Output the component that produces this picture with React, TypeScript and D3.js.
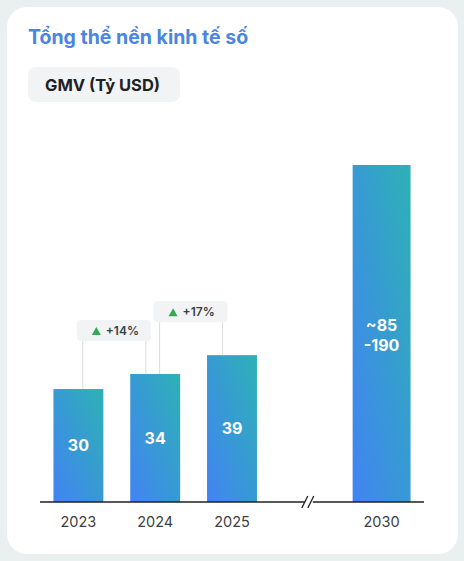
import React from "react";
import * as d3 from "d3";

// categories and values
const years = ["2023", "2024", "2025", "2030"];
const gmv = [30, 34, 39]; // 2023..2025
const gmv2030Low = 85;
const gmv2030High = 190;
const growth = [
  { from: "2023", to: "2024", label: "+14%" },
  { from: "2024", to: "2025", label: "+17%" },
];

const W = 464;
const H = 561;
const FONT = "Inter, Roboto, sans-serif";

const App: React.FC = () => {
  // band slots include an empty slot for the axis break
  const slots = ["2023", "2024", "2025", "break", "2030"];
  const x = d3
    .scaleBand<string>()
    .domain(slots)
    .range([40, 424])
    .paddingInner(0.35)
    .paddingOuter(0.175);

  // axis is broken, so tall values get clamped at the top
  const y = d3.scaleLinear().domain([0, 89.5]).range([502, 165]).clamp(true);

  const bw = x.bandwidth();
  const values: Record<string, number> = {};
  years.slice(0, 3).forEach((yr, i) => (values[yr] = gmv[i]));
  values["2030"] = gmv2030High;

  const cx = (k: string) => (x(k) as number) + bw / 2;
  const baseY = y(0);
  const breakX = cx("break");

  return (
    <svg
      width={W}
      height={H}
      style={{ position: "fixed", left: 0, top: 0 }}
      fontFamily={FONT}
    >
      <defs>
        <linearGradient id="barGrad" x1="1" y1="0" x2="0" y2="1">
          <stop offset="0%" stopColor="#2db1b5" />
          <stop offset="100%" stopColor="#4283f3" />
        </linearGradient>
      </defs>
      <rect width={W} height={H} fill="#eaf0f0" />
      <rect x={7} y={7} width={451} height={547} rx={20} fill="#ffffff" />

      <text x={28} y={44} fontSize={19.5} fontWeight={700} fill="#4a85df">
        Tổng thể nền kinh tế số
      </text>
      <rect x={28} y={67} width={152} height={35} rx={8} fill="#f1f3f4" />
      <text x={45} y={91} fontSize={16.5} fontWeight={700} fill="#202124">
        GMV (Tỷ USD)
      </text>

      {/* bars */}
      {years.map((yr) => {
        const widen = yr === "2030" ? 8 : 0;
        const top = y(values[yr]);
        return (
          <rect
            key={yr}
            x={(x(yr) as number) - widen}
            y={top}
            width={bw + widen}
            height={baseY - top}
            fill="url(#barGrad)"
          />
        );
      })}

      {/* value labels */}
      {years.slice(0, 3).map((yr) => (
        <text
          key={yr}
          x={cx(yr)}
          y={(y(values[yr]) + baseY) / 2}
          dy="0.35em"
          textAnchor="middle"
          fontSize={16}
          fontWeight={700}
          fill="#ffffff"
        >
          {values[yr]}
        </text>
      ))}
      <text
        x={cx("2030") - 4}
        y={(y(gmv2030High) + baseY) / 2}
        textAnchor="middle"
        fontSize={16}
        fontWeight={700}
        fill="#ffffff"
      >
        <tspan x={cx("2030") - 4} dy="-0.15em">
          ~{gmv2030Low}
        </tspan>
        <tspan x={cx("2030") - 4} dy="1.25em">
          -{gmv2030High}
        </tspan>
      </text>

      {/* growth callouts */}
      {growth.map((g) => {
        const x0 = cx(g.from);
        const x1 = cx(g.to);
        const mid = (x0 + x1) / 2;
        const bwid = 74;
        const bh = 21;
        const left = mid - bwid / 2 - 3;
        const bottom = y(values[g.to]) - 33;
        const top = bottom - bh;
        return (
          <g key={g.label}>
            <line
              x1={left + 6}
              x2={left + 6}
              y1={bottom}
              y2={y(values[g.from])}
              stroke="#dadce0"
              strokeWidth={1}
            />
            <line
              x1={left + bwid - 5}
              x2={left + bwid - 5}
              y1={bottom}
              y2={y(values[g.to])}
              stroke="#dadce0"
              strokeWidth={1}
            />
            <rect x={left} y={top} width={bwid} height={bh} rx={4} fill="#f1f3f4" />
            <path
              d={`M${left + 15},${top + 15} l4.5,-8 l4.5,8 z`}
              fill="#34a853"
            />
            <text
              x={left + 29}
              y={top + bh / 2}
              dy="0.35em"
              fontSize={12}
              fontWeight={600}
              fill="#3c4043"
            >
              {g.label}
            </text>
          </g>
        );
      })}

      {/* axis with break */}
      <line x1={40} x2={breakX - 4} y1={baseY} y2={baseY} stroke="#202124" strokeWidth={1.5} />
      <line x1={breakX + 4} x2={424} y1={baseY} y2={baseY} stroke="#202124" strokeWidth={1.5} />
      <line x1={breakX - 7} x2={breakX - 1} y1={baseY + 6} y2={baseY - 6} stroke="#202124" strokeWidth={1.3} />
      <line x1={breakX - 1} x2={breakX + 5} y1={baseY + 6} y2={baseY - 6} stroke="#202124" strokeWidth={1.3} />

      {years.map((yr) => (
        <text
          key={yr}
          x={cx(yr) - (yr === "2030" ? 4 : 0)}
          y={527}
          textAnchor="middle"
          fontSize={14.5}
          fill="#3c4043"
        >
          {yr}
        </text>
      ))}
    </svg>
  );
};

export default App;
